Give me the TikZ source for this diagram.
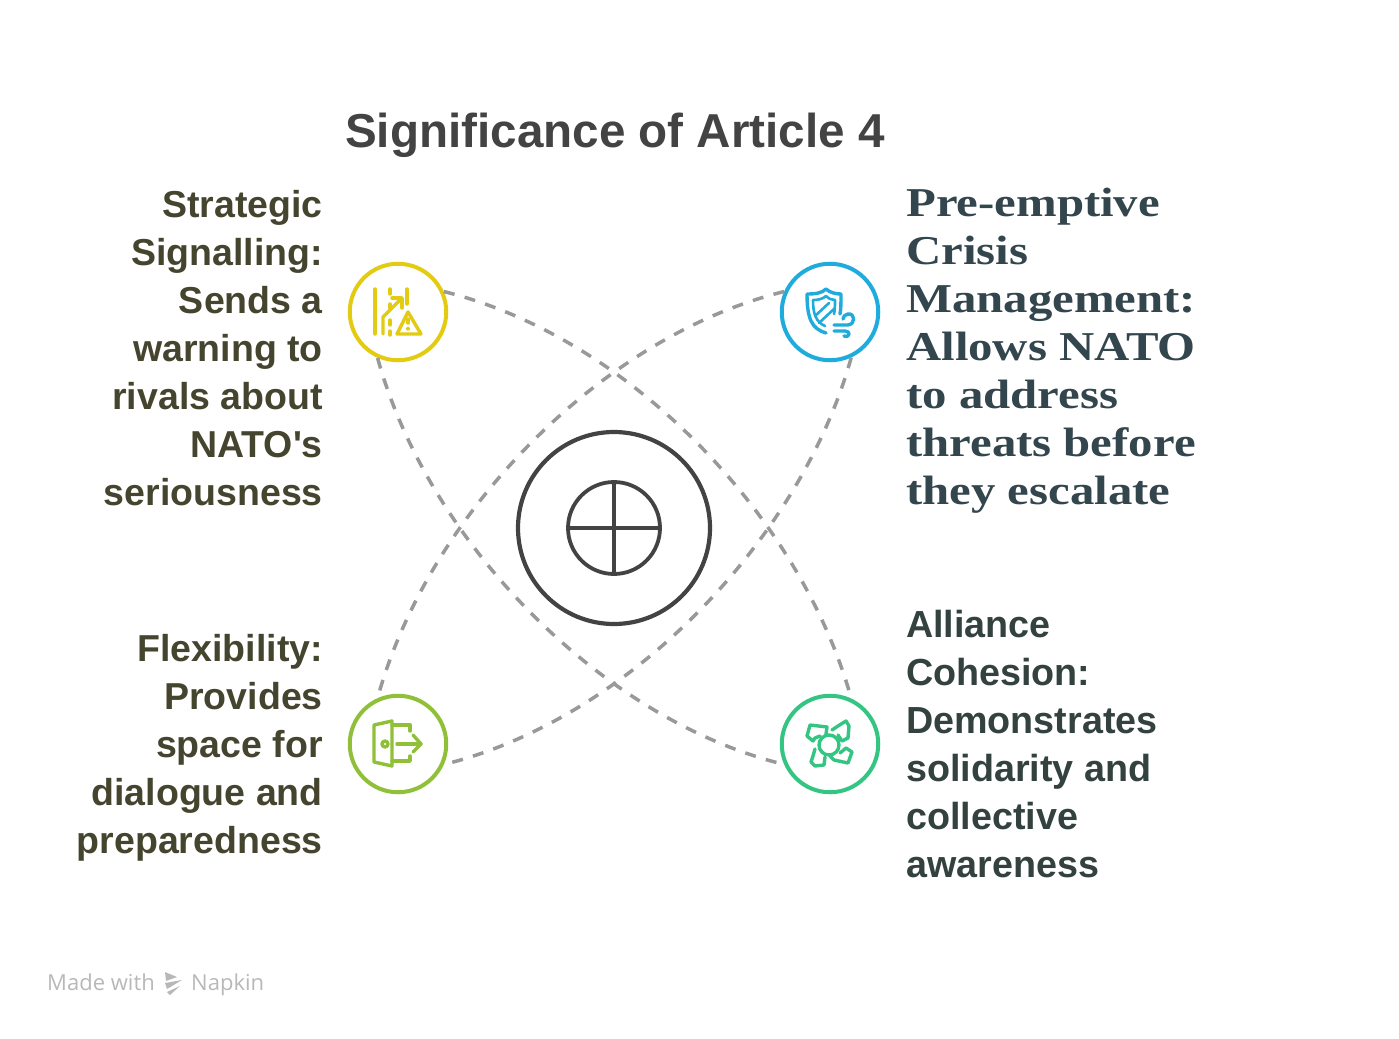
\documentclass[tikz,border=0pt]{standalone}
\usepackage{fontspec}
\setmainfont{Liberation Sans}
\newfontfamily\serifb[FakeStretch=1.19]{Liberation Serif}
\newfontfamily\madef{Open Sans}
\definecolor{leftink}{HTML}{45452F}
\definecolor{rightink}{HTML}{33423F}
\definecolor{serifink}{HTML}{33454D}
\definecolor{titleink}{HTML}{434343}
\definecolor{dashgray}{HTML}{999999}
\definecolor{yel}{HTML}{E3CB12}
\definecolor{blu}{HTML}{1FACDC}
\definecolor{lim}{HTML}{90BF38}
\definecolor{grn}{HTML}{35C583}
\tikzset{
  x=1pt,y=-1pt,
  badge/.style={circle,draw,line width=4pt,fill=white,minimum size=96.5pt,inner sep=0pt},
  arcline/.style={draw=dashgray,line width=3.5pt,dash pattern=on 11pt off 10.5pt},
  ltext/.style={anchor=north east,align=right,text=leftink,inner sep=0pt,font=\fontsize{37.5}{48}\selectfont\bfseries},
  rtext/.style={anchor=north west,align=left,text=rightink,inner sep=0pt,font=\fontsize{37.7}{48}\selectfont\bfseries},
  stext/.style={anchor=north west,align=left,text=serifink,inner sep=0pt,font=\fontsize{41}{48}\selectfont\serifb\bfseries},
  ico/.style={line width=3.4pt,line cap=round,line join=round},
}
\begin{document}
\begin{tikzpicture}
\useasboundingbox (0,0) rectangle (1399,1038);
\node[anchor=base west,inner sep=0pt,text=titleink,font=\fontsize{47.6}{56}\selectfont\bfseries] (title) at (345,147) {Significance of Article 4};
\node[badge,draw=yel] (y) at (398,312) {};
\node[badge,draw=blu] (b) at (830,312) {};
\node[badge,draw=lim] (l) at (398,744) {};
\node[badge,draw=grn] (g) at (830,744) {};
\draw[arcline] (y.24) .. controls (628,337) and (800,515) .. (g.65);
\draw[arcline] (b.156) .. controls (600,337) and (428,515) .. (l.114);
\draw[arcline] (y.246) .. controls (428,541) and (600,719) .. (g.204);
\draw[arcline] (b.-65) .. controls (800,541) and (628,719) .. (l.-24);
\node[circle,draw=titleink,line width=4.2pt,minimum size=192pt,inner sep=0pt] (outer) at (614,528) {};
\node[circle,draw=titleink,line width=3.8pt,minimum size=92pt,inner sep=0pt] (inner) at (614,528) {};
\draw[titleink,line width=3.8pt] (inner.north) -- (inner.south);
\draw[titleink,line width=3.8pt] (inner.west) -- (inner.east);
\node[ltext] (t1) at (323,190) {Strategic\\Signalling:\\Sends a\\warning to\\rivals about\\NATO\textquotesingle s\\seriousness};
\node[ltext] (t2) at (323,634) {Flexibility:\\Provides\\space for\\dialogue and\\preparedness};
\node[stext] (t3) at (906,188) {Pre-emptive\\Crisis\\Management:\\Allows NATO\\to address\\threats before\\they escalate};
\node[rtext] (t4) at (906,610) {Alliance\\Cohesion:\\Demonstrates\\solidarity and\\collective\\awareness};
\node[anchor=base west,inner sep=0pt,text=black!28,font=\fontsize{22}{26}\selectfont\madef] (m1) at (47,990) {Made with};
\node[anchor=base west,inner sep=0pt,text=black!28,font=\fontsize{22}{26}\selectfont\madef] (m2) at (191,990) {Napkin};
\fill[black!28] (165,972)--(177,977)--(166,981)--cycle (165,983)--(182,980)--(167,989)--cycle (167,992)--(180,986)--(170,995)--cycle;
% yellow icon
\begin{scope}[ico,draw=yel]
\draw (375,289)--(375,334);
\draw (390,289)--(390,294) (390,304)--(390,308) (390,320)--(390,325) (390,331)--(390,335);
\draw (407,289)--(407,304);
\draw (383,334)--(383,317)--(401,299);
\draw (392,298)--(402,298)--(402,308);
\draw (408,312)--(397,334)--(421,334)--cycle;
\draw (408,319)--(408,323) (408,328.5)--(408,329);
\end{scope}
% blue icon
\begin{scope}[ico,draw=blu]
\draw (826,333) .. controls (812,329) and (807,319) .. (807,294) .. controls (816,294) and (822,293) .. (826,289) .. controls (830,293) and (837,294) .. (841,294) .. controls (841,302) and (841,309) .. (840,314);
\draw[line width=2.6pt] (825,326) .. controls (816,322) and (813,314) .. (813,300) .. controls (818,300) and (823,299) .. (826,296) .. controls (829,299) and (832,300) .. (835,300) .. controls (835,305) and (835,310) .. (834,314);
\draw[line width=2.6pt] (815,316)--(829,303) (819,323)--(835,308);
\draw (834,325)--(848,325) .. controls (856,324) and (855,313) .. (848,314) .. controls (845,314) and (843,317) .. (843,319);
\draw (834,331)--(845,331) .. controls (851,331) and (850,338) .. (844,336);
\end{scope}
% lime icon
\begin{scope}[ico,draw=lim]
\draw (374,725)--(392,721)--(392,766)--(374,762)--cycle;
\draw (392,725)--(410,725)--(410,731);
\draw (392,761)--(410,761)--(410,756);
\draw (397,744)--(421,744);
\draw (413,735)--(421,744)--(413,752);
\draw (385,744) circle (3pt);
\end{scope}
% green icon
\begin{scope}[ico,draw=grn]
\draw (829,745) circle (10pt);
\draw (820,736)--(815,738)--(813,741)--(807,736)--(810,725)--(827,727)--(826,734);
\draw (832,730)--(838,726)--(846,721)--(849,726)--(848,738)--(842,741)--(838,735);
\draw (815,749)--(813,756)--(811,762)--(815,766)--(824,765)--(825,757);
\draw (830,756)--(834,760)--(848,763)--(852,752)--(846,748)--(840,753);
\end{scope}
\end{tikzpicture}
\end{document}
